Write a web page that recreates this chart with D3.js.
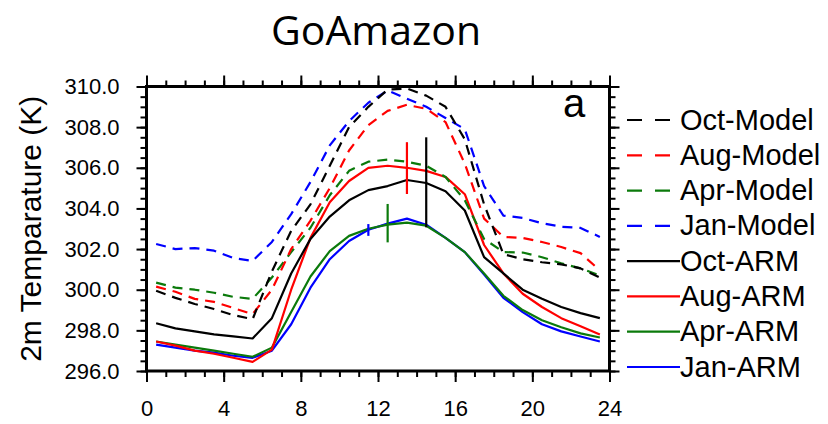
<!DOCTYPE html>
<html>
<head>
<meta charset="utf-8">
<script src="https://cdn.jsdelivr.net/npm/d3@7"></script>
<style>
  body { margin: 0; background: #fff; }
  svg { display: block; }
</style>
</head>
<body>
<svg id="chart" width="828" height="424"></svg>
<script>
// Hour of day (local time, hourly means centred on the half hour)
const hours = [0.5, 1.5, 2.5, 3.5, 4.5, 5.5, 6.5, 7.5, 8.5, 9.5, 10.5, 11.5,
               12.5, 13.5, 14.5, 15.5, 16.5, 17.5, 18.5, 19.5, 20.5, 21.5, 22.5, 23.5];

// 2 m temperature (K), model runs
const octModel = [299.95, 299.6, 299.3, 299.05, 298.75, 298.55, 300.9, 302.9, 304.2, 306.1, 308.0, 309.0,
                  309.85, 309.9, 309.55, 309.0, 307.4, 304.2, 301.75, 301.5, 301.35, 301.25, 301.05, 300.6];
const augModel = [300.15, 299.9, 299.55, 299.4, 299.1, 298.8, 300.0, 302.0, 303.4, 305.0, 306.85, 308.1,
                  308.8, 309.1, 308.9, 308.25, 306.2, 303.5, 302.6, 302.55, 302.35, 302.1, 301.8, 300.95];
const aprModel = [300.35, 300.1, 300.0, 299.85, 299.65, 299.55, 300.6, 301.85, 303.05, 304.65, 305.85, 306.3,
                  306.4, 306.3, 306.1, 305.55, 304.4, 302.5, 301.85, 301.83, 301.6, 301.3, 301.05, 300.7];
const janModel = [302.25, 302.0, 302.05, 301.92, 301.56, 301.42, 302.35, 303.72, 305.3, 307.1, 308.3, 309.2,
                  309.8, 309.4, 309.0, 308.45, 307.9, 305.1, 303.65, 303.53, 303.27, 303.1, 303.04, 302.6];

// 2 m temperature (K), ARM site observations
const octARM = [298.35, 298.1, 297.95, 297.8, 297.7, 297.6, 298.6, 300.8, 302.5, 303.6, 304.4, 304.9,
                305.1, 305.4, 305.25, 304.85, 303.9, 301.6, 300.8, 300.0, 299.55, 299.15, 298.85, 298.6];
const augARM = [297.45, 297.25, 297.0, 296.85, 296.65, 296.45, 297.05, 300.0, 302.55, 304.3, 305.35, 306.0,
                306.1, 306.0, 305.85, 305.55, 304.7, 302.2, 300.8, 299.8, 299.15, 298.6, 298.2, 297.8];
const aprARM = [297.45, 297.3, 297.15, 297.0, 296.85, 296.7, 297.15, 298.9, 300.65, 301.9, 302.65, 303.0,
                303.2, 303.3, 303.15, 302.55, 301.85, 300.8, 299.7, 299.0, 298.5, 298.15, 297.85, 297.65];
const janARM = [297.3, 297.15, 297.0, 296.9, 296.75, 296.65, 297.0, 298.3, 300.1, 301.5, 302.4, 302.95,
                303.25, 303.5, 303.2, 302.55, 301.85, 300.75, 299.6, 298.9, 298.3, 297.95, 297.7, 297.45];

// Observed spread at the afternoon maximum (Jan, Apr, Aug, Oct)
const errHours = [11.5, 12.5, 13.5, 14.5];
const errLow   = [302.65, 302.33, 304.71, 303.07];
const errHigh  = [303.23, 304.22, 307.26, 307.5];

// Axis ticks
const xMajorTicks = [0, 4, 8, 12, 16, 20, 24];
const xMinorTicks = [0,1,2,3,4,5,6,7,8,9,10,11,12,13,14,15,16,17,18,19,20,21,22,23,24];
const yMajorTicks = [296, 298, 300, 302, 304, 306, 308, 310];
const yMinorTicks = [296,296.5,297,297.5,298,298.5,299,299.5,300,300.5,301,301.5,302,302.5,
                     303,303.5,304,304.5,305,305.5,306,306.5,307,307.5,308,308.5,309,309.5,310];

const legendLabels = ["Oct-Model", "Aug-Model", "Apr-Model", "Jan-Model",
                      "Oct-ARM", "Aug-ARM", "Apr-ARM", "Jan-ARM"];

const BLACK = "#000000", RED = "#ff0000", GREEN = "#0b7a0b", BLUE = "#0000ff";

// Series in legend order
const series = [
  { label: legendLabels[0], values: octModel, color: BLACK, dashed: true },
  { label: legendLabels[1], values: augModel, color: RED,   dashed: true },
  { label: legendLabels[2], values: aprModel, color: GREEN, dashed: true },
  { label: legendLabels[3], values: janModel, color: BLUE,  dashed: true },
  { label: legendLabels[4], values: octARM,   color: BLACK, dashed: false },
  { label: legendLabels[5], values: augARM,   color: RED,   dashed: false },
  { label: legendLabels[6], values: aprARM,   color: GREEN, dashed: false },
  { label: legendLabels[7], values: janARM,   color: BLUE,  dashed: false }
];
const errColors = [BLUE, GREEN, RED, BLACK];

const svg = d3.select("#chart");
const FONT = "'Liberation Sans', Arial, Helvetica, sans-serif";

const plotLeft = 146.5, plotRight = 609.5, plotTop = 86.5, plotBottom = 371;
const x = d3.scaleLinear().domain([0, 24]).range([plotLeft, plotRight]);
const y = d3.scaleLinear().domain([296, 310]).range([plotBottom, plotTop]);

// Title
svg.append("text")
  .attr("x", (plotLeft + plotRight) / 2 - 2)
  .attr("y", 45)
  .attr("text-anchor", "middle")
  .attr("font-family", "'Open Sans', sans-serif")
  .attr("font-size", 41)
  .attr("fill", "#000")
  .text("GoAmazon");

// Y axis title
svg.append("text")
  .attr("transform", `translate(41,${(plotTop + plotBottom) / 2}) rotate(-90)`)
  .attr("text-anchor", "middle")
  .attr("font-family", FONT)
  .attr("font-size", 30)
  .text("2m Temparature (K)");

// Curves
const line = d3.line()
  .x((d, i) => x(hours[i]))
  .y(d => y(d));

const drawOrder = [7, 6, 5, 4, 3, 2, 1, 0];
const plot = svg.append("g");
drawOrder.forEach(k => {
  const s = series[k];
  plot.append("path")
    .datum(s.values)
    .attr("d", line)
    .attr("fill", "none")
    .attr("stroke", s.color)
    .attr("stroke-width", 2.2)
    .attr("stroke-linejoin", "round")
    .attr("stroke-dasharray", s.dashed ? "10,7" : null);
});

// Error bars
errHours.forEach((h, i) => {
  plot.append("line")
    .attr("x1", x(h)).attr("x2", x(h))
    .attr("y1", y(errLow[i])).attr("y2", y(errHigh[i]))
    .attr("stroke", errColors[i])
    .attr("stroke-width", 2.2);
});

// Axes: major + minor ticks, drawn outward on all four sides
function styleAxis(g) {
  g.select(".domain").remove();
  g.selectAll(".tick line").attr("stroke", "#000").attr("stroke-width", 2);
}
const fmt1 = d3.format(".1f");

svg.append("g").attr("transform", `translate(0,${plotBottom})`)
  .call(d3.axisBottom(x).tickValues(xMinorTicks).tickSize(6).tickFormat(""))
  .call(styleAxis);
svg.append("g").attr("transform", `translate(0,${plotBottom})`)
  .call(d3.axisBottom(x).tickValues(xMajorTicks).tickSize(11).tickPadding(18).tickFormat(d3.format("d")))
  .call(styleAxis)
  .call(g => g.selectAll("text").attr("font-family", FONT).attr("font-size", 22).attr("fill", "#000"));
svg.append("g").attr("transform", `translate(0,${plotTop})`)
  .call(d3.axisTop(x).tickValues(xMinorTicks).tickSize(6).tickFormat(""))
  .call(styleAxis);
svg.append("g").attr("transform", `translate(0,${plotTop})`)
  .call(d3.axisTop(x).tickValues(xMajorTicks).tickSize(11).tickFormat(""))
  .call(styleAxis);

svg.append("g").attr("transform", `translate(${plotLeft},0)`)
  .call(d3.axisLeft(y).tickValues(yMinorTicks).tickSize(6).tickFormat(""))
  .call(styleAxis);
svg.append("g").attr("transform", `translate(${plotLeft},0)`)
  .call(d3.axisLeft(y).tickValues(yMajorTicks).tickSize(10).tickPadding(17).tickFormat(fmt1))
  .call(styleAxis)
  .call(g => g.selectAll("text").attr("font-family", FONT).attr("font-size", 22).attr("fill", "#000"));
svg.append("g").attr("transform", `translate(${plotRight},0)`)
  .call(d3.axisRight(y).tickValues(yMinorTicks).tickSize(6).tickFormat(""))
  .call(styleAxis);
svg.append("g").attr("transform", `translate(${plotRight},0)`)
  .call(d3.axisRight(y).tickValues(yMajorTicks).tickSize(10).tickFormat(""))
  .call(styleAxis);

// Plot frame
svg.append("rect")
  .attr("x", plotLeft).attr("y", plotTop)
  .attr("width", plotRight - plotLeft).attr("height", plotBottom - plotTop)
  .attr("fill", "none")
  .attr("stroke", "#000")
  .attr("stroke-width", 3);

// Panel letter
svg.append("text")
  .attr("x", 563).attr("y", 117)
  .attr("font-family", FONT)
  .attr("font-size", 40)
  .text("a");

// Legend
const legY = d3.scaleLinear().domain([0, 7]).range([120, 367]);
const leg = svg.append("g");
series.forEach((s, i) => {
  const cy = legY(i);
  leg.append("line")
    .attr("x1", 627).attr("x2", s.dashed ? 672 : 680)
    .attr("y1", cy).attr("y2", cy)
    .attr("stroke", s.color)
    .attr("stroke-width", 2.2)
    .attr("stroke-dasharray", s.dashed ? "15,13" : null);
  leg.append("text")
    .attr("x", 680).attr("y", cy + 9.5)
    .attr("font-family", FONT)
    .attr("font-size", 29)
    .text(s.label);
});
</script>
</body>
</html>
